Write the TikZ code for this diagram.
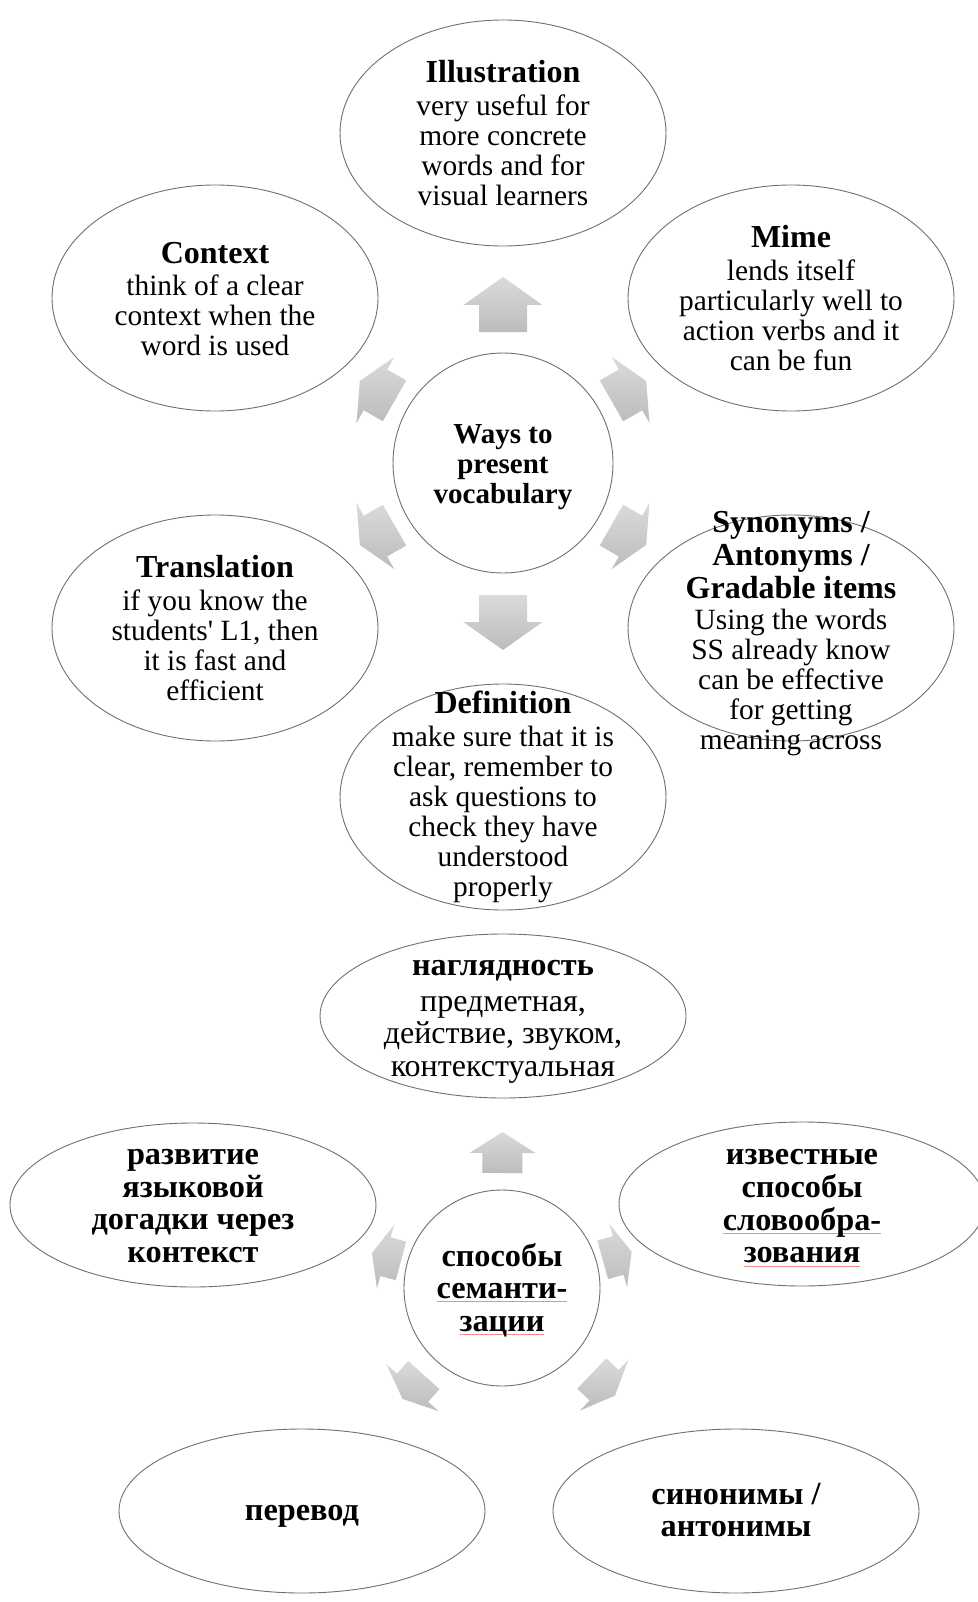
\documentclass[tikz,border=0pt]{standalone}
\usepackage{fontspec}
\setmainfont{Liberation Serif}
\usetikzlibrary{shapes.geometric,calc}

\definecolor{rimgray}{RGB}{112,112,112}
\definecolor{arrowtop}{RGB}{218,218,218}
\definecolor{arrowbot}{RGB}{188,188,188}
\definecolor{spellred}{RGB}{240,140,140}

% red spell-check line under a word
\newsavebox\spellbox
\newcommand\spellmark[1]{\sbox\spellbox{#1}\rlap{\textcolor{spellred}{\rule[-3.5pt]{\wd\spellbox}{0.8pt}}}\usebox\spellbox}
% straight apostrophe, set as a glyph so the TeX quote mapping leaves it alone
\newcommand\straightquote{\XeTeXglyph\XeTeXcharglyph"27\relax}
% bold headings inside the bubbles
\newcommand\ttl[1]{{\fontsize{32}{30}\selectfont\bfseries #1}}
\newcommand\rttl[1]{{\fontsize{32.3}{32.5}\selectfont\bfseries #1}}

% block arrow from hub #1 towards satellite #2, centred #3 away from the hub
% #4 half length, #5 head length, #6 head half width, #7 shaft half width
\newcommand\radarrow[7]{%
  \pgfmathanglebetweenpoints{\pgfpointanchor{#1}{center}}{\pgfpointanchor{#2}{center}}%
  \let\arrang\pgfmathresult
  \coordinate (#1-#2-arrow) at ($(#1)!#3!(#2)$);
  \begin{scope}[shift={(#1-#2-arrow)}, rotate=\arrang]
    \shade[blockarrow] (#4,0) -- ({#4-#5},#6) -- ({#4-#5},#7) -- (-#4,#7)
      -- (-#4,-#7) -- ({#4-#5},-#7) -- ({#4-#5},-#6) -- cycle;
  \end{scope}}

\tikzset{
  bubble/.style={ellipse, draw=rimgray, fill=white, line width=0.9pt, inner sep=0pt},
  hub/.style={circle, draw=rimgray, fill=white, line width=0.9pt, inner sep=0pt},
  satext/.style={align=center, inner sep=0pt, font=\fontsize{29.4}{30}\selectfont},
  hubtext/.style={align=center, inner sep=0pt, font=\fontsize{29}{30}\selectfont\bfseries},
  rutext/.style={align=center, inner sep=0pt, font=\fontsize{32}{32.5}\selectfont},
  rubold/.style={align=center, inner sep=0pt, font=\fontsize{32.3}{32.7}\selectfont\bfseries},
  blockarrow/.style={top color=arrowtop, bottom color=arrowbot, draw=none},
  topsat/.style={bubble, minimum width=326pt, minimum height=226pt},
  botsat/.style={bubble, minimum width=366pt, minimum height=164pt}
}

\begin{document}
\begin{tikzpicture}[x=1pt, y=1pt]
\useasboundingbox (0,0) rectangle (977,-1602);
\fill[white] (0,0) rectangle (977,-1602);

% ---------- Ways to present vocabulary ----------
\node[hub, minimum size=220pt] (ways) at (503,-463) {};
\node[topsat] (ill)   at (503,-133) {};
\node[topsat] (ctx)   at (215,-298) {};
\node[topsat] (mime)  at (791,-298) {};
\node[topsat] (trans) at (215,-628) {};
\node[topsat] (syn)   at (791,-628) {};
\node[topsat] (defn)  at (503,-797) {};

\node[hubtext] (ways-t) at ([yshift=-4pt]ways.center) {Ways to\\present\\vocabulary};
\node[satext] (ill-t) at (ill)
  {\ttl{Illustration}\\[2.7pt]very useful for\\more concrete\\words and for\\visual learners};
\node[satext] (ctx-t) at ([yshift=-1pt]ctx.center)
  {\ttl{Context}\\[2.7pt]think of a clear\\context when the\\word is used};
\node[satext] (mime-t) at (mime)
  {\ttl{Mime}\\[2.7pt]lends itself\\particularly well to\\action verbs and it\\can be fun};
\node[satext] (trans-t) at (trans)
  {\ttl{Translation}\\[2.7pt]if you know the\\students\straightquote{} L1, then\\it is fast and\\efficient};
\node[satext] (syn-t) at ([yshift=-6pt]syn.center)
  {\ttl{Synonyms /}\\[3pt]\ttl{Antonyms /}\\[3pt]\ttl{Gradable items}\\[1pt]Using the words\\SS already know\\can be effective\\for getting\\meaning across};
\node[satext] (defn-t) at (defn)
  {\ttl{Definition}\\[2.7pt]make sure that it is\\clear, remember to\\ask questions to\\check they have\\understood\\properly};

\radarrow{ways}{ill}{158.5pt}{27.5}{28}{39.5}{24}
\radarrow{ways}{defn}{159.5pt}{27.5}{28}{39.5}{24}
\radarrow{ways}{ctx}{145pt}{20}{18}{38}{23.5}
\radarrow{ways}{mime}{145pt}{20}{18}{38}{23.5}
\radarrow{ways}{trans}{145pt}{20}{18}{38}{23.5}
\radarrow{ways}{syn}{145pt}{20}{18}{38}{23.5}

% ---------- способы семантизации ----------
\node[hub, minimum size=196pt] (sem) at (502,-1288) {};
\node[botsat] (nagl)  at (503,-1016) {};
\node[botsat] (razv)  at (193,-1205) {};
\node[botsat] (izv)   at (802,-1204) {};
\node[botsat] (perev) at (302,-1511) {};
\node[botsat] (sinon) at (736,-1511) {};

\node[rubold] (sem-t) at ([yshift=-2pt]sem.center) {способы\\\spellmark{семанти-}\\\spellmark{зации}};
\node[rutext] (nagl-t) at ([yshift=-6pt]nagl.center)
  {\rttl{наглядность}\\[3pt]предметная,\\действие, звуком,\\контекстуальная};
\node[rubold] (razv-t) at ([yshift=-1pt]razv.center) {развитие\\языковой\\догадки через\\контекст};
\node[rubold] (izv-t) at ([yshift=-4pt]izv.center) {известные\\способы\\\spellmark{словообра-}\\\spellmark{зования}};
\node[rubold] (perev-t) at ([yshift=-5pt]perev.center) {перевод};
\node[rubold] (sinon-t) at ([yshift=1pt]sinon.center) {синонимы /\\антонимы};

\radarrow{sem}{nagl}{135.5pt}{20.5}{21}{33}{20}
\radarrow{sem}{razv}{119.6pt}{15}{14}{33}{20}
\radarrow{sem}{izv}{119.6pt}{15}{14}{33}{20}
\radarrow{sem}{perev}{133pt}{16}{15}{35}{21}
\radarrow{sem}{sinon}{140pt}{16}{15}{35}{21}
\end{tikzpicture}
\end{document}
